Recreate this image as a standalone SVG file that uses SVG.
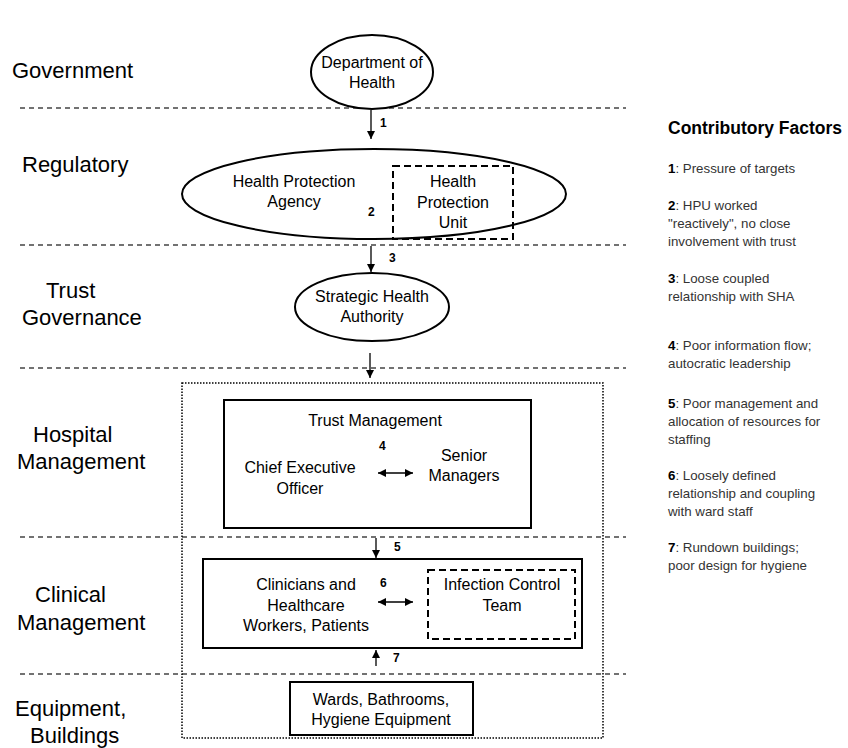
<svg xmlns="http://www.w3.org/2000/svg" width="848" height="748" viewBox="0 0 848 748">
<defs>
<style>
.lvl{font-family:"Liberation Sans",Arial,sans-serif;font-size:22px;fill:#000}
.nt{font-family:"Liberation Sans",Arial,sans-serif;font-size:16px;fill:#000;text-anchor:middle}
.num{font-family:"Liberation Sans",Arial,sans-serif;font-size:12px;font-weight:bold;fill:#000}
.cf{font-family:"Liberation Sans",Arial,sans-serif;font-size:13.3px;fill:#333}
.cfb{font-weight:bold;fill:#000}
.hd{font-family:"Liberation Sans",Arial,sans-serif;font-size:17.5px;font-weight:bold;fill:#000}
.sep{stroke:#444;stroke-width:1.3;stroke-dasharray:5,4;fill:none}
.shape{fill:#fff;stroke:#000;stroke-width:2}
.dash{fill:none;stroke:#000;stroke-width:2;stroke-dasharray:7,4}
.dot{fill:none;stroke:#000;stroke-width:1.5;stroke-dasharray:1.5,1.5}
.arr{stroke:#000;stroke-width:1.3;fill:none}
</style>
<marker id="ah" viewBox="0 0 10 10" refX="10" refY="5" markerWidth="8" markerHeight="8" markerUnits="userSpaceOnUse" orient="auto-start-reverse">
<path d="M0,0 L10,5 L0,10 z" fill="#000"/>
</marker>
</defs>
<rect width="848" height="748" fill="#fff"/>

<g id="levels">
<text class="lvl" x="12" y="78">Government</text>
<text class="lvl" x="22" y="172">Regulatory</text>
<text class="lvl" x="46" y="298">Trust</text>
<text class="lvl" x="22" y="325">Governance</text>
<text class="lvl" x="33" y="442">Hospital</text>
<text class="lvl" x="17" y="469">Management</text>
<text class="lvl" x="35" y="602">Clinical</text>
<text class="lvl" x="17" y="630">Management</text>
<text class="lvl" x="15" y="716">Equipment,</text>
<text class="lvl" x="30" y="743">Buildings</text>
</g>

<g id="separators">
<line class="sep" x1="20" y1="108" x2="626" y2="108"/>
<line class="sep" x1="20" y1="245" x2="626" y2="245"/>
<line class="sep" x1="20" y1="368" x2="626" y2="368"/>
<line class="sep" x1="20" y1="537" x2="626" y2="537"/>
<line class="sep" x1="20" y1="674" x2="626" y2="674"/>
</g>

<g id="hospital-boundary">
<rect class="dot" x="182" y="383" width="421" height="355"/>
</g>

<g id="dept-health">
<ellipse class="shape" cx="372" cy="72" rx="61" ry="37"/>
<text class="nt" x="372" y="68">Department of</text>
<text class="nt" x="372" y="88">Health</text>
</g>

<g id="hpa">
<ellipse class="shape" cx="374" cy="194" rx="192" ry="45"/>
<text class="nt" x="294" y="187">Health Protection</text>
<text class="nt" x="294" y="207">Agency</text>
</g>

<g id="hpu">
<rect class="dash" x="393" y="166" width="120" height="73"/>
<text class="nt" x="453" y="187">Health</text>
<text class="nt" x="453" y="208">Protection</text>
<text class="nt" x="453" y="228">Unit</text>
</g>

<g id="sha">
<ellipse class="shape" cx="372" cy="307" rx="77" ry="34"/>
<text class="nt" x="372" y="302">Strategic Health</text>
<text class="nt" x="372" y="322">Authority</text>
</g>

<g id="trust-management">
<rect class="shape" x="224" y="400" width="307" height="128"/>
<text class="nt" x="375" y="426">Trust Management</text>
</g>

<g id="ceo">
<text class="nt" x="300" y="473">Chief Executive</text>
<text class="nt" x="300" y="494">Officer</text>
</g>

<g id="senior-managers">
<text class="nt" x="464" y="461">Senior</text>
<text class="nt" x="464" y="481">Managers</text>
</g>

<g id="clinical">
<rect class="shape" x="203" y="559" width="379" height="89"/>
<text class="nt" x="306" y="590">Clinicians and</text>
<text class="nt" x="306" y="611">Healthcare</text>
<text class="nt" x="306" y="631">Workers, Patients</text>
</g>

<g id="ict">
<rect class="dash" x="428" y="570" width="147" height="69"/>
<text class="nt" x="502" y="590">Infection Control</text>
<text class="nt" x="502" y="611">Team</text>
</g>

<g id="wards">
<rect class="shape" x="290" y="682" width="183" height="53"/>
<text class="nt" x="381" y="705">Wards, Bathrooms,</text>
<text class="nt" x="381" y="725">Hygiene Equipment</text>
</g>

<g id="connectors">
<line class="arr" x1="371" y1="110" x2="371" y2="139" marker-end="url(#ah)"/>
<text class="num" x="380" y="127">1</text>
<text class="num" x="368" y="216">2</text>
<line class="arr" x1="371" y1="246" x2="371" y2="272" marker-end="url(#ah)"/>
<text class="num" x="389" y="262">3</text>
<line class="arr" x1="370" y1="353" x2="370" y2="378" marker-end="url(#ah)"/>
<line class="arr" x1="378" y1="473" x2="413" y2="473" marker-start="url(#ah)" marker-end="url(#ah)"/>
<text class="num" x="379" y="450">4</text>
<line class="arr" x1="376" y1="538" x2="376" y2="558" marker-end="url(#ah)"/>
<text class="num" x="394" y="551">5</text>
<line class="arr" x1="378" y1="602" x2="413" y2="602" marker-start="url(#ah)" marker-end="url(#ah)"/>
<text class="num" x="380" y="587">6</text>
<line class="arr" x1="376" y1="666" x2="376" y2="650" marker-end="url(#ah)"/>
<text class="num" x="393" y="662">7</text>
</g>

<g id="contributory-factors">
<text class="hd" x="668" y="134">Contributory Factors</text>
<text class="cf" x="668" y="173"><tspan class="cfb">1</tspan>: Pressure of targets</text>
<text class="cf" x="668" y="210"><tspan class="cfb">2</tspan>: HPU worked</text>
<text class="cf" x="668" y="228">"reactively", no close</text>
<text class="cf" x="668" y="246">involvement with trust</text>
<text class="cf" x="668" y="283"><tspan class="cfb">3</tspan>: Loose coupled</text>
<text class="cf" x="668" y="301">relationship with SHA</text>
<text class="cf" x="668" y="350"><tspan class="cfb">4</tspan>: Poor information flow;</text>
<text class="cf" x="668" y="368">autocratic leadership</text>
<text class="cf" x="668" y="408"><tspan class="cfb">5</tspan>: Poor management and</text>
<text class="cf" x="668" y="426">allocation of resources for</text>
<text class="cf" x="668" y="444">staffing</text>
<text class="cf" x="668" y="480"><tspan class="cfb">6</tspan>: Loosely defined</text>
<text class="cf" x="668" y="498">relationship and coupling</text>
<text class="cf" x="668" y="516">with ward staff</text>
<text class="cf" x="668" y="552"><tspan class="cfb">7</tspan>: Rundown buildings;</text>
<text class="cf" x="668" y="570">poor design for hygiene</text>
</g>
</svg>
